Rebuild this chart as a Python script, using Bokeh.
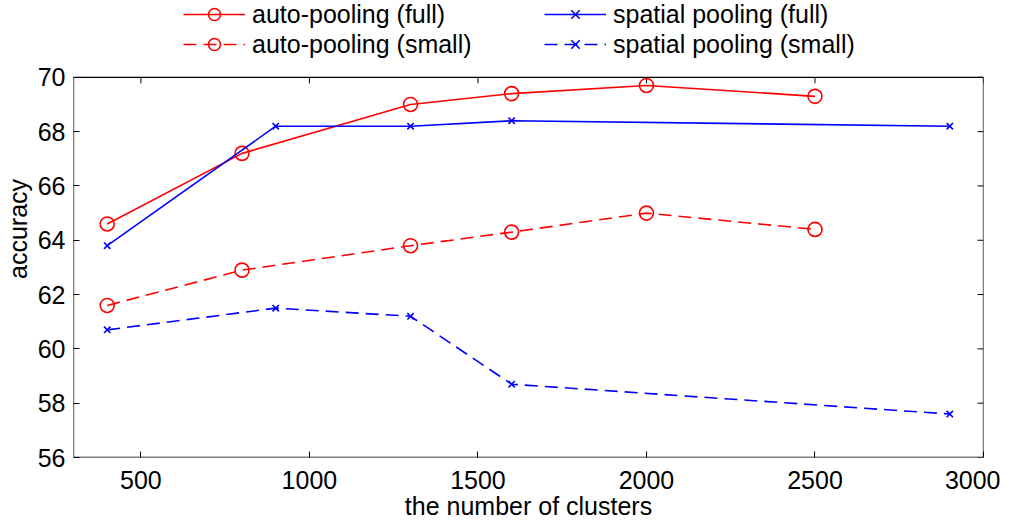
import math
from bokeh.plotting import figure
from bokeh.models import Range1d, Legend, LegendItem, FixedTicker, BoxAnnotation
from bokeh.embed import file_html
from bokeh.resources import INLINE

# data
auto_x = [400, 800, 1300, 1600, 2000, 2500]
auto_full = [64.6, 67.2, 69.0, 69.4, 69.7, 69.3]
auto_small = [61.6, 62.9, 63.8, 64.3, 65.0, 64.4]
spatial_x = [400, 900, 1300, 1600, 2900]
spatial_full = [63.8, 68.2, 68.2, 68.4, 68.2]
spatial_small = [60.7, 61.5, 61.2, 58.7, 57.6]
x_ticks = [500, 1000, 1500, 2000, 2500, 3000]
y_ticks = [56, 58, 60, 62, 64, 66, 68, 70]

FONT = "Liberation Sans"
FS = "25px"
DASH = "13 7"
X0, X1, Y0, Y1 = 300, 3000, 56, 70

# layout: axes box spans 381 px for Y0..Y1; extra room above it (77 px) holds the legend
BOX_H, TOP_PAD = 381, 77
Y_TOP = Y1 + TOP_PAD * (Y1 - Y0) / BOX_H

p = figure(width=1000, height=522, x_range=Range1d(X0, X1), y_range=Range1d(Y0, Y_TOP),
           output_backend="svg", toolbar_location=None,
           min_border_left=73, min_border_right=17, min_border_top=0, min_border_bottom=64)
p.outline_line_color = None
p.xgrid.visible = False
p.ygrid.visible = False

for ax in (p.xaxis[0], p.yaxis[0]):
    ax.major_tick_in = 6
    ax.major_tick_out = 0
    ax.minor_tick_in = 0
    ax.minor_tick_out = 0
    ax.axis_line_color = None
    ax.major_tick_line_color = "black"
    ax.major_label_text_font = FONT
    ax.major_label_text_font_size = FS
    ax.major_label_text_color = "black"
    ax.axis_label_text_font = FONT
    ax.axis_label_text_font_size = FS
    ax.axis_label_text_font_style = "normal"
    ax.axis_label_text_color = "black"

p.xaxis.ticker = FixedTicker(ticks=x_ticks)
p.yaxis.ticker = FixedTicker(ticks=y_ticks)
p.xaxis.axis_label = "the number of clusters"
p.yaxis.axis_label = "accuracy"
p.xaxis.major_label_standoff = 13
p.yaxis.major_label_standoff = 8
p.xaxis.axis_label_standoff = 0
p.yaxis.axis_label_standoff = 3

# axes box
p.add_layout(BoxAnnotation(left=X0, right=X1, bottom=Y0, top=Y1, fill_color=None,
                           line_color="black", line_alpha=1.0, line_width=1.3))
# inward ticks on the top and right edges
p.ray(x=x_ticks, y=[Y1] * len(x_ticks), length=6, length_units="screen",
      angle=-math.pi / 2, line_color="black", line_width=1)
p.ray(x=[X1] * len(y_ticks), y=y_ticks, length=6, length_units="screen",
      angle=math.pi, line_color="black", line_width=1)

lw = 1.6
r1 = p.line(auto_x, auto_full, color="red", line_width=lw)
m1 = p.scatter(auto_x, auto_full, marker="circle", size=14, fill_color=None, line_color="red", line_width=lw)
r2 = p.line(auto_x, auto_small, color="red", line_width=lw, line_dash=DASH)
m2 = p.scatter(auto_x, auto_small, marker="circle", size=14, fill_color=None, line_color="red", line_width=lw)
r3 = p.line(spatial_x, spatial_full, color="blue", line_width=lw)
m3 = p.scatter(spatial_x, spatial_full, marker="x", size=9, line_color="blue", line_width=lw)
r4 = p.line(spatial_x, spatial_small, color="blue", line_width=lw, line_dash=DASH)
m4 = p.scatter(spatial_x, spatial_small, marker="x", size=9, line_color="blue", line_width=lw)

legend = Legend(items=[
    LegendItem(label="auto-pooling (full)", renderers=[r1, m1]),
    LegendItem(label="auto-pooling (small)", renderers=[r2, m2]),
    LegendItem(label="spatial pooling (full)", renderers=[r3, m3]),
    LegendItem(label="spatial pooling (small)", renderers=[r4, m4]),
], ncols=2, location=(110, 398))
legend.padding = 0
legend.margin = 0
legend.spacing = 0
legend.glyph_width = 62
legend.glyph_height = 30
legend.label_height = 30
legend.label_width = 292
legend.label_standoff = 7
legend.label_text_font = FONT
legend.label_text_font_size = FS
legend.label_text_color = "black"
legend.background_fill_alpha = 0
legend.border_line_color = None
p.add_layout(legend, "center")

open("out.html", "w").write(file_html(p, INLINE))
